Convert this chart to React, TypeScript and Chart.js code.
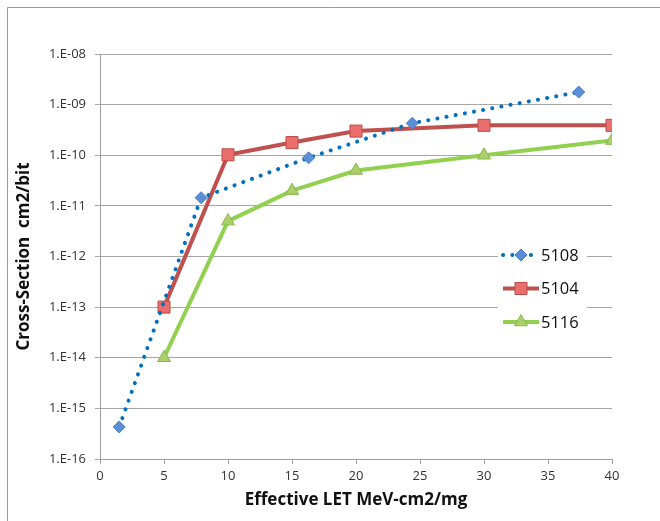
import React, { useEffect, useRef } from "react";
import { Chart, registerables } from "chart.js";
import { drawPoint } from "chart.js/helpers";

Chart.register(...registerables);

const seriesNames = ["5108", "5104", "5116"];
const let5108 = [1.5, 7.9, 16.3, 24.4, 37.4];
const xs5108 = [4.3e-16, 1.45e-11, 8.9e-11, 4.3e-10, 1.77e-9];
const let5104 = [5, 10, 15, 20, 30, 40];
const xs5104 = [1e-13, 1.02e-10, 1.78e-10, 3.0e-10, 3.9e-10, 3.9e-10];
const let5116 = [5, 10, 15, 20, 30, 40];
const xs5116 = [1e-14, 5e-12, 2e-11, 5e-11, 1e-10, 1.95e-10];

const yTickValues = [1e-16, 1e-15, 1e-14, 1e-13, 1e-12, 1e-11, 1e-10, 1e-9, 1e-8];
const yTickLabels = ["1.E-16", "1.E-15", "1.E-14", "1.E-13", "1.E-12", "1.E-11", "1.E-10", "1.E-09", "1.E-08"];

const xTitle = "Effective LET MeV-cm2/mg";
const yTitle = "Cross-Section  cm2/bit";

const FONT = "'Open Sans', 'DejaVu Sans', sans-serif";

function toPoints(xs: number[], ys: number[]) {
  return xs.map((x, i) => ({ x, y: ys[i] }));
}

const frameAndLegend = {
  id: "frameAndLegend",
  beforeDraw(chart: any) {
    const ctx = chart.ctx;
    ctx.save();
    ctx.strokeStyle = "#9a9a9a";
    ctx.lineWidth = 1;
    ctx.beginPath();
    ctx.moveTo(7.5, chart.height);
    ctx.lineTo(7.5, 7.5);
    ctx.lineTo(chart.width, 7.5);
    ctx.stroke();
    ctx.restore();
  },
  afterDatasetsDraw(chart: any) {
    const ctx = chart.ctx;
    const area = chart.chartArea;
    const boxX = area.right - 114;
    const boxY = area.top + 186;
    ctx.save();
    ctx.fillStyle = "#ffffff";
    ctx.fillRect(boxX, boxY, 89, 96);
    chart.data.datasets.forEach((ds: any, i: number) => {
      const y = boxY + 15 + i * 33.5;
      const x0 = boxX + 5;
      const x1 = boxX + 41;
      ctx.save();
      ctx.strokeStyle = ds.borderColor;
      ctx.lineWidth = ds.borderWidth;
      ctx.lineCap = ds.borderCapStyle || "butt";
      ctx.setLineDash(ds.borderDash || []);
      ctx.beginPath();
      ctx.moveTo(x0, y);
      ctx.lineTo(x1, y);
      ctx.stroke();
      ctx.restore();
      ctx.save();
      ctx.fillStyle = ds.pointBackgroundColor;
      ctx.strokeStyle = ds.pointBorderColor;
      ctx.lineWidth = ds.pointBorderWidth;
      drawPoint(ctx, { pointStyle: ds.pointStyle, radius: ds.pointRadius, borderWidth: ds.pointBorderWidth, rotation: 0 }, (x0 + x1) / 2, y);
      ctx.restore();
      ctx.fillStyle = "#111";
      ctx.font = `16.5px ${FONT}`;
      ctx.textBaseline = "middle";
      ctx.textAlign = "left";
      ctx.fillText(ds.label, x1 + 2, y + 1);
    });
    ctx.restore();
  },
};

export default function App() {
  const ref = useRef<HTMLCanvasElement>(null);
  useEffect(() => {
    if (!ref.current) return;
    const chart = new Chart(ref.current, {
      type: "line",
      data: {
        datasets: [
          {
            label: seriesNames[0],
            data: toPoints(let5108, xs5108),
            borderColor: "#0070C0",
            borderWidth: 4,
            borderDash: [0.1, 9.2],
            borderCapStyle: "round",
            pointStyle: "rectRot",
            pointRadius: 6,
            pointBackgroundColor: "#5A8FD8",
            pointBorderColor: "#4D7EC2",
            pointBorderWidth: 1,
            tension: 0,
          },
          {
            label: seriesNames[1],
            data: toPoints(let5104, xs5104),
            borderColor: "#C0504D",
            borderWidth: 4,
            pointStyle: "rect",
            pointRadius: 8.5,
            pointBackgroundColor: "#E96E6C",
            pointBorderColor: "#BE4B48",
            pointBorderWidth: 1,
            tension: 0,
          },
          {
            label: seriesNames[2],
            data: toPoints(let5116, xs5116),
            borderColor: "#92D050",
            borderWidth: 4,
            pointStyle: "triangle",
            pointRadius: 7.5,
            pointBackgroundColor: "#AACF6B",
            pointBorderColor: "#8DB650",
            pointBorderWidth: 1,
            tension: 0,
          },
        ] as any,
      },
      options: {
        animation: false,
        responsive: false,
        devicePixelRatio: 1,
        layout: { padding: { top: 54, right: 48, bottom: 0, left: 0 } },
        plugins: { legend: { display: false }, tooltip: { enabled: false } },
        scales: {
          x: {
            type: "linear",
            min: 0,
            max: 40,
            ticks: { stepSize: 5, color: "#333", font: { family: FONT, size: 13 }, padding: 4 },
            grid: { drawOnChartArea: false, drawTicks: true, tickLength: 5, color: "#a0a0a0" },
            border: { display: true, color: "#a0a0a0" },
            title: {
              display: true,
              text: xTitle,
              color: "#111",
              font: { family: FONT, size: 17, weight: "bold" },
              padding: { top: 0, bottom: 11 },
            },
            afterFit: (s: any) => {
              s.height = 62;
            },
          },
          y: {
            type: "logarithmic",
            min: 1e-16,
            max: 1e-8,
            afterBuildTicks: (s: any) => {
              s.ticks = yTickValues.map((v) => ({ value: v }));
            },
            ticks: {
              autoSkip: false,
              color: "#333",
              font: { family: FONT, size: 13 },
              padding: 9,
              callback: (v: any) => {
                const i = yTickValues.findIndex((t) => Math.abs(Math.log10(t) - Math.log10(v)) < 1e-6);
                return i >= 0 ? yTickLabels[i] : "";
              },
            },
            grid: { drawTicks: true, tickLength: 5, color: "#a6a6a6" },
            border: { display: true, color: "#a0a0a0" },
            title: {
              display: true,
              text: yTitle,
              color: "#111",
              font: { family: FONT, size: 17, weight: "bold" },
              padding: { top: 14, bottom: 0 },
            },
            afterFit: (s: any) => {
              s.width = 100;
            },
          },
        },
      } as any,
      plugins: [frameAndLegend],
    });
    return () => chart.destroy();
  }, []);
  return (
    <div style={{ position: "fixed", left: 0, top: 0, width: 660, height: 521, background: "#fff" }}>
      <canvas ref={ref} width={660} height={521} style={{ display: "block" }} />
    </div>
  );
}
